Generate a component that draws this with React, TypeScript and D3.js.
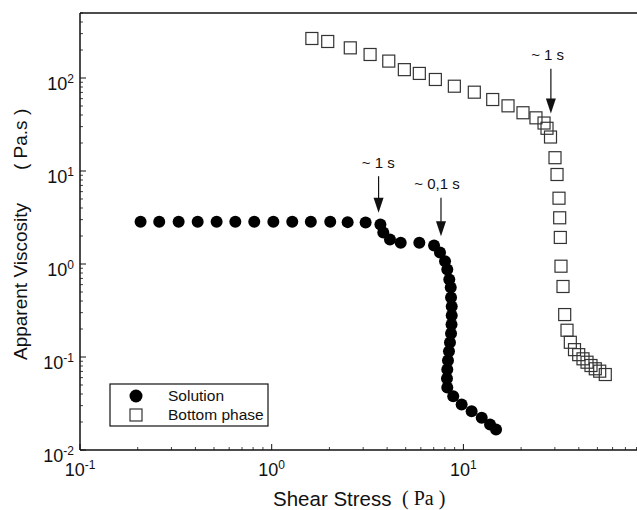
import * as d3 from 'd3'

// Solution (filled circles): shear stress (Pa), apparent viscosity (Pa.s)
const solStress = [
  0.207, 0.259, 0.327, 0.411, 0.516, 0.646, 0.811, 1.02, 1.28, 1.6, 2.02, 2.49, 3.09,
  3.69, 3.82, 4.14, 4.71, 5.89, 7.03, 7.55, 8.02, 8.24, 8.44, 8.59, 8.62, 8.69, 8.69,
  8.67, 8.62, 8.51, 8.41, 8.31, 8.24, 8.21, 8.24, 8.85, 9.79, 11.04, 12.46, 13.77, 14.8,
]
const solVisc = [
  2.85, 2.85, 2.85, 2.85, 2.85, 2.85, 2.85, 2.85, 2.85, 2.85, 2.84, 2.82, 2.8,
  2.66, 2.18, 1.83, 1.69, 1.69, 1.58, 1.33, 1.07, 0.873, 0.681, 0.559, 0.436, 0.349, 0.279,
  0.223, 0.179, 0.143, 0.115, 0.0917, 0.0734, 0.0587, 0.047, 0.0379, 0.0309, 0.0261, 0.0222,
  0.0188, 0.0166,
]

// Bottom phase (open squares)
const botStress = [
  1.62, 1.96, 2.57, 3.26, 4.08, 4.92, 5.89, 7.14, 8.97, 11.4, 14.22, 17.09, 20.46, 23.91,
  26.34, 27.3, 28.47, 30.05, 30.79, 31.53, 31.79, 32.03, 32.29, 33.08, 33.76, 34.71, 36.12,
  37.98, 39.95, 42.06, 44.14, 46.3, 48.76, 51.4, 54.97,
]
const botVisc = [
  266, 247, 211, 179, 152, 123, 112, 96.4, 81.6, 70.4, 58.7, 50.2, 42.3, 37.3, 32.8, 28.8,
  23.2, 13.9, 9.17, 5.1, 3.14, 1.93, 0.947, 0.573, 0.286, 0.194, 0.144, 0.12, 0.106, 0.0956,
  0.0879, 0.081, 0.0747, 0.0704, 0.0648,
]

// annotations: label, arrow x, label y, arrow tail y, arrow tip y (data units)
const noteLabels = ['~ 1 s', '~ 0,1 s', '~ 1 s']
const noteX = [3.61, 7.64, 28.6]
const noteTextX = [3.6, 7.28, 27.5]
const noteTextY = [10.9, 6.48, 155]
const noteTail = [8.79, 5.15, 125.6]
const noteTip = [3.55, 1.99, 41.5]

const xMajors = [0.1, 1, 10]
const xExp = ['-1', '0', '1']
const yMajors = [0.01, 0.1, 1, 10, 100]
const yExp = ['-2', '-1', '0', '1', '2']

const W = 637
const H = 510
const left = 80
const top = 13
const bottom = 450
const decadeX = 191.7

const sans = '"Liberation Sans", Arial, Helvetica, sans-serif'
const serif = '"Liberation Serif", "Times New Roman", serif'

export default function App() {
  // the right end of the axis runs past the picture's edge, as in the source
  const x = d3.scaleLog().domain([0.1, 100]).range([left, left + 3 * decadeX])
  const y = d3.scaleLog().domain([0.01, 500]).range([bottom, top])

  const minorX: number[] = []
  for (const d of [0.1, 1, 10]) for (let k = 2; k <= 9; k++) minorX.push(d * k)
  const minorY: number[] = []
  for (const d of [0.01, 0.1, 1, 10, 100]) for (let k = 2; k <= 9; k++) if (d * k <= 500) minorY.push(d * k)

  const ink = '#111'
  const sq = 12

  return (
    <svg
      width={W}
      height={H}
      style={{ position: 'absolute', left: 0, top: 0, background: '#fff' }}
      fontFamily={sans}
    >
      {/* frame */}
      <line x1={left} x2={W} y1={top} y2={top} stroke={ink} strokeWidth={1.5} />
      <line x1={left} x2={W} y1={bottom} y2={bottom} stroke={ink} strokeWidth={1.5} />
      <line x1={left} x2={left} y1={top} y2={bottom} stroke={ink} strokeWidth={1.5} />

      {/* x ticks */}
      {xMajors.map((v, i) => (
        <g key={'xm' + i}>
          <line x1={x(v)} x2={x(v)} y1={bottom} y2={bottom - 6} stroke={ink} strokeWidth={1} />
          <text x={x(v)} y={476} textAnchor="middle" fontSize={18} fill={ink}>
            10
            <tspan dy={-7} fontSize={12}>{xExp[i]}</tspan>
          </text>
        </g>
      ))}
      {minorX.map((v, i) => (
        <line key={'xn' + i} x1={x(v)} x2={x(v)} y1={bottom} y2={bottom - 3} stroke={ink} strokeWidth={0.8} />
      ))}

      {/* y ticks */}
      {yMajors.map((v, i) => (
        <g key={'ym' + i}>
          <line x1={left} x2={left + 6} y1={y(v)} y2={y(v)} stroke={ink} strokeWidth={1} />
          <text x={74} y={y(v) + 11.5} textAnchor="end" fontSize={18} fill={ink}>
            10
            <tspan dy={-7} fontSize={12}>{yExp[i]}</tspan>
          </text>
        </g>
      ))}
      {minorY.map((v, i) => (
        <line key={'yn' + i} x1={left} x2={left + 3} y1={y(v)} y2={y(v)} stroke={ink} strokeWidth={0.8} />
      ))}

      {/* axis titles */}
      <text x={273} y={506} fontSize={20.5} fill={ink}>Shear Stress</text>
      <text x={402} y={505} fontSize={20} fontFamily={serif} fill={ink}>( Pa )</text>
      <text transform="translate(27,360) rotate(-90)" fontSize={19} fill={ink}>Apparent Viscosity</text>
      <text transform="translate(27,170) rotate(-90)" fontSize={19} fill={ink}>( Pa.s )</text>

      {/* bottom phase */}
      {botStress.map((v, i) => (
        <rect
          key={'b' + i}
          x={x(v) - sq / 2}
          y={y(botVisc[i]) - sq / 2}
          width={sq}
          height={sq}
          fill="none"
          stroke="#333"
          strokeWidth={1.2}
        />
      ))}

      {/* solution */}
      {solStress.map((v, i) => (
        <circle key={'s' + i} cx={x(v)} cy={y(solVisc[i])} r={6} fill="#000" />
      ))}

      {/* annotations */}
      {noteLabels.map((t, i) => {
        const ax = x(noteX[i])
        const tip = y(noteTip[i])
        return (
          <g key={'n' + i}>
            <text x={x(noteTextX[i])} y={y(noteTextY[i])} textAnchor="middle" fontSize={15} fill={ink}>
              {t}
            </text>
            <line x1={ax} x2={ax} y1={y(noteTail[i])} y2={tip - 10} stroke={ink} strokeWidth={1.2} />
            <path d={`M${ax - 5},${tip - 15}L${ax + 5},${tip - 15}L${ax},${tip}Z`} fill={ink} />
          </g>
        )
      })}

      {/* legend */}
      <rect x={110} y={384} width={158} height={42} fill="#fff" stroke={ink} strokeWidth={1.2} />
      <circle cx={136} cy={396} r={6.5} fill="#000" />
      <rect x={130} y={409} width={12} height={12} fill="none" stroke="#333" strokeWidth={1.2} />
      <text x={168} y={401} fontSize={15.5} fill={ink}>Solution</text>
      <text x={168} y={420} fontSize={15.5} fill={ink}>Bottom phase</text>
    </svg>
  )
}
